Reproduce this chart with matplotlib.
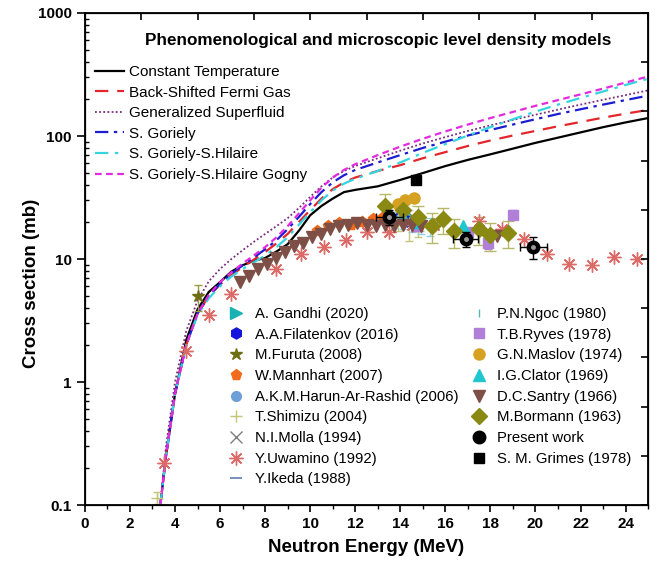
import matplotlib.pyplot as plt
import matplotlib.ticker as mt
import numpy as np

plt.rcParams['font.family'] = ['Liberation Sans', 'DejaVu Sans']

# --- model curves (TALYS level density options) ---
E_mod = [3.35, 3.6, 4.0, 4.5, 5.0, 5.5, 6.0, 6.5, 7.0, 7.5, 8.0, 8.5, 9.0, 9.5, 10.0, 10.5,
         11.0, 11.5, 12.0, 13.0, 14.0, 15.0, 16.0, 17.0, 18.0, 19.0, 20.0, 21.0, 22.0, 23.0, 24.0, 25.0]
ct = [0.1, 0.25, 0.8, 2.2, 3.9, 5.4, 6.5, 7.9, 8.9, 9.7, 10.2, 11.5, 13.2, 17, 22.7, 27,
      31, 35, 36.5, 39, 44, 50, 57, 64, 71, 79, 88, 97, 107, 118, 129, 140]
bsfg = [0.1, 0.26, 0.8, 2.0, 3.6, 5.0, 6.2, 7.4, 8.6, 9.9, 11.4, 13.4, 16, 20, 25, 31,
        37, 42, 46, 52, 58, 66, 74, 83, 92, 101, 110, 120, 130, 141, 152, 163]
gsm = [0.1, 0.3, 1.0, 2.6, 4.6, 6.6, 8.3, 10, 11.8, 13.8, 16, 18.5, 21.5, 26, 32, 39,
       46, 52, 57, 66, 76, 87, 98, 110, 122, 135, 149, 164, 180, 197, 215, 235]
gor = [0.1, 0.25, 0.8, 2.0, 3.6, 5.0, 6.3, 7.6, 8.9, 10.3, 12, 14.2, 17.5, 22, 28, 35,
       42, 48, 53, 61, 70, 80, 90, 101, 112, 124, 137, 151, 165, 180, 196, 213]
gsh = [0.1, 0.25, 0.8, 2.0, 3.5, 4.8, 6.0, 7.2, 8.3, 9.4, 10.7, 12.5, 15, 19, 24, 30,
       36, 41, 45, 52, 61, 73, 86, 101, 118, 137, 158, 180, 204, 230, 260, 292]
gog = [0.1, 0.25, 0.8, 2.0, 3.6, 5.1, 6.5, 7.8, 9.2, 10.7, 12.5, 15, 18.5, 23.5, 30, 38,
       46, 53, 59, 70, 82, 95, 109, 124, 140, 157, 176, 196, 218, 243, 272, 305]

# --- experimental data ---
gandhi_E = [14.4, 14.8]
gandhi_y = [21.5, 20.5]
filat_E = [13.5, 13.9, 14.3, 14.7]
filat_y = [22, 21.5, 20.5, 20]
furuta_E = [5.0]
furuta_y = [5.0]
furuta_err = [1.2]
mann_E = [10.3, 10.8, 11.3, 11.8, 12.3, 12.8, 13.2]
mann_y = [17, 18.5, 19.5, 19, 20, 21, 21.5]
harun_E = [14.0]
harun_y = [21]
shim_E = [3.2, 13.9, 14.4, 14.8]
shim_y = [0.115, 21, 19.5, 19]
shim_err = [0.012, 4, 5.5, 4]
molla_E = [14.6]
molla_y = [21.5]
uwa_E = [3.5, 4.5, 5.5, 6.5, 8.5, 9.6, 10.6, 11.6, 12.5, 13.5, 14.5, 15.5, 17.5, 18.5,
         19.5, 20.5, 21.5, 22.5, 23.5, 24.5]
uwa_y = [0.22, 1.8, 3.5, 5.2, 8.3, 11, 12.5, 14.2, 16.5, 16.5, 19, 19, 20.5, 17.5,
         14.5, 11, 9.1, 8.9, 10.3, 10]
ikeda_E = [13.6, 14.2, 14.8]
ikeda_y = [20.5, 20, 19.5]
ngoc_E = [13.7, 14.1, 14.5, 14.9, 15.3]
ngoc_y = [21, 20.5, 19.5, 19, 18.5]
ngoc_err = [3, 3, 3, 3, 3]
ryves_E = [14.7, 17.0, 17.9, 19.0]
ryves_y = [18.5, 16.5, 13.5, 23]
ryves_err = [1.5, 1.5, 1.5, 2]
maslov_E = [13.9, 14.2, 14.6]
maslov_y = [28, 30, 31.5]
clator_E = [14.1, 14.7, 16.8]
clator_y = [22, 20, 18.5]
santry_E = [6.9, 7.3, 7.7, 8.1, 8.5, 8.9, 9.3, 9.7, 10.1, 10.5, 10.9, 11.3, 11.7, 12.1,
            12.5, 12.9, 13.3, 13.7, 14.1, 14.5, 14.9, 18.3]
santry_y = [6.5, 7.3, 8.3, 9.2, 10.2, 11.5, 12.8, 13.5, 15, 16, 17.5, 18.5, 19, 19.5,
            19, 18.5, 19, 18.5, 19, 18.8, 18.5, 15.5]
borm_E = [13.3, 14.1, 14.8, 15.4, 15.9, 16.4, 17.5, 18.0, 18.8]
borm_y = [27, 25, 22, 18.5, 21, 16.8, 17.5, 15.6, 16.2]
borm_err = [7, 6, 5, 5, 5, 4.5, 4.5, 4, 4]
pres_E = [13.5, 16.9, 19.9]
pres_y = [22, 14.5, 12.5]
pres_xerr = [0.6, 0.55, 0.6]
pres_yerr = [3, 2, 2.5]
grimes_E = [14.7]
grimes_y = [44]

fig = plt.figure(figsize=(6.58, 5.65), dpi=100)
ax = fig.add_axes([0.129, 0.106, 0.856, 0.871])

l1, = ax.plot(E_mod, ct, color='black', lw=1.6, label='Constant Temperature')
l2, = ax.plot(E_mod, bsfg, color='#e3262b', lw=1.6, ls=(0, (6, 4)), label='Back-Shifted Fermi Gas')
l3, = ax.plot(E_mod, gsm, color='#7a2a7f', lw=1.3, ls=(0, (1, 1.3)), label='Generalized Superfluid')
l4, = ax.plot(E_mod, gor, color='#1c1cd0', lw=1.6, ls=(0, (6, 2.5, 1.5, 2.5)), label='S. Goriely')
l5, = ax.plot(E_mod, gsh, color='#35d5e0', lw=1.6, ls=(0, (6, 3, 1.5, 3)), label='S. Goriely-S.Hilaire')
l6, = ax.plot(E_mod, gog, color='#e22ae0', lw=1.6, ls=(0, (3, 2)), label='S. Goriely-S.Hilaire Gogny')

# error bars
ax.errorbar(furuta_E, furuta_y, yerr=furuta_err, fmt='none', ecolor='#9a9a40', elinewidth=1, capsize=3)
ax.errorbar(shim_E, shim_y, yerr=shim_err, fmt='none', ecolor='#c4c47a', elinewidth=1, capsize=3)
ax.errorbar(ngoc_E, ngoc_y, yerr=ngoc_err, fmt='none', ecolor='#8fd3e3', elinewidth=1, capsize=3)
ax.errorbar(ryves_E, ryves_y, yerr=ryves_err, fmt='none', ecolor='#b07fd8', elinewidth=1, capsize=3)
ax.errorbar(borm_E, borm_y, yerr=borm_err, fmt='none', ecolor='#b8b86a', elinewidth=1, capsize=4)

ms = 8
h = []
h.append(ax.plot(gandhi_E, gandhi_y, '>', color='#19b2b2', ms=ms, ls='none', label='A. Gandhi (2020)')[0])
h.append(ax.plot(filat_E, filat_y, 'h', color='#1414dc', ms=ms, ls='none', label='A.A.Filatenkov (2016)')[0])
h.append(ax.plot(furuta_E, furuta_y, '*', color='#6e6e14', ms=ms + 1, ls='none', label='M.Furuta (2008)')[0])
h.append(ax.plot(mann_E, mann_y, 'p', color='#f26a1b', ms=ms, ls='none', label='W.Mannhart (2007)')[0])
h.append(ax.plot(harun_E, harun_y, 'o', color='#6f9fd8', ms=ms - 1, ls='none', label='A.K.M.Harun-Ar-Rashid (2006)')[0])
h.append(ax.plot(shim_E, shim_y, '+', color='#c4c47a', ms=ms + 1, mew=1, ls='none', label='T.Shimizu (2004)')[0])
h.append(ax.plot(molla_E, molla_y, 'x', color='#7f7f7f', ms=ms + 1, mew=1, ls='none', label='N.I.Molla (1994)')[0])
h.append(ax.plot(uwa_E, uwa_y, marker=(8, 2, 0), color='#dc6a66', ms=ms + 2, mew=1, ls='none', label='Y.Uwamino (1992)')[0])
h.append(ax.plot(ikeda_E, ikeda_y, '_', color='#5b7fb0', ms=ms, mew=1.2, ls='none', label='Y.Ikeda (1988)')[0])
h.append(ax.plot(ngoc_E, ngoc_y, '|', color='#5ab4b4', ms=ms - 2, mew=1, ls='none', label='P.N.Ngoc (1980)')[0])
h.append(ax.plot(ryves_E, ryves_y, 's', color='#b07fd8', ms=ms - 1, ls='none', label='T.B.Ryves (1978)')[0])
h.append(ax.plot(maslov_E, maslov_y, 'o', color='#d6a121', ms=ms, ls='none', label='G.N.Maslov (1974)')[0])
h.append(ax.plot(clator_E, clator_y, '^', color='#20c6cf', ms=ms, ls='none', label='I.G.Clator (1969)')[0])
h.append(ax.plot(santry_E, santry_y, 'v', color='#7d4f47', ms=ms + 1, ls='none', label='D.C.Santry (1966)')[0])
h.append(ax.plot(borm_E, borm_y, 'D', color='#8a8a12', ms=ms, ls='none', label='M.Bormann (1963)')[0])
ax.errorbar(pres_E, pres_y, xerr=pres_xerr, yerr=pres_yerr, fmt='none', ecolor='black', elinewidth=1, capsize=3)
h.append(ax.plot(pres_E, pres_y, 'o', color='black', mec='black', ms=ms + 1, ls='none', label='Present work')[0])
ax.plot(pres_E, pres_y, 'o', color='#9a9a9a', ms=2.5, ls='none')
h.append(ax.plot(grimes_E, grimes_y, 's', color='black', ms=ms - 1, ls='none', label='S. M. Grimes (1978)')[0])

ax.set_yscale('log')
ax.set_xlim(0, 25)
ax.set_ylim(0.1, 1000)
ax.set_xticks(np.arange(0, 25, 2))
ax.xaxis.set_minor_locator(mt.MultipleLocator(1))
ax.yaxis.set_major_formatter(mt.FuncFormatter(lambda v, p: '%g' % v))
ax.yaxis.set_minor_locator(mt.LogLocator(base=10, subs=np.arange(2, 10)))
ax.yaxis.set_minor_formatter(mt.NullFormatter())
ax.tick_params(top=False, right=False, labelsize=11)
ax.tick_params(axis='y', which='major', direction='out', length=6, width=1.2)
ax.tick_params(axis='y', which='minor', direction='in', length=3, width=1)
ax.tick_params(axis='x', which='major', direction='out', length=5, width=1.2)
ax.tick_params(axis='x', which='minor', direction='out', length=3, width=1)
for lab in ax.get_xticklabels() + ax.get_yticklabels():
    lab.set_fontweight('bold')
for s in ax.spines.values():
    s.set_linewidth(1.3)

# separate top / right tick layers
axt = ax.twiny()
axt.set_xlim(0, 10)
axt.set_xticks(range(11))
axt.tick_params(direction='in', length=5, width=1.2, labeltop=False)
axr = ax.twinx()
axr.set_ylim(0, 10)
axr.set_yticks(range(11))
axr.tick_params(direction='in', length=5, width=1.2, labelright=False)

ax.set_xlabel('Neutron Energy (MeV)', fontsize=13.5, fontweight='bold')
ax.xaxis.set_label_coords(0.5, -0.068)
ax.set_ylabel('Cross section (mb)', fontsize=13.5, fontweight='bold')
ax.yaxis.set_label_coords(-0.08, 0.45)

ax.text(0.52, 0.945, 'Phenomenological and microscopic level density models',
        transform=ax.transAxes, ha='center', va='center', fontsize=12.3, fontweight='bold')

leg1 = ax.legend(handles=[l1, l2, l3, l4, l5, l6], loc='upper left', frameon=False,
                 bbox_to_anchor=(95 / 658, 1 - 65 / 565), bbox_transform=fig.transFigure,
                 borderpad=0, borderaxespad=0, fontsize=11, handlelength=1.9,
                 handletextpad=0.35, labelspacing=0.43)
ax.add_artist(leg1)
ax.legend(handles=h, loc='upper left', ncol=2, frameon=False,
          bbox_to_anchor=(229 / 658, 1 - 307 / 565), bbox_transform=fig.transFigure,
          borderpad=0, borderaxespad=0, fontsize=10.7, handlelength=1.0,
          handletextpad=0.75, labelspacing=0.45, columnspacing=0.85)

fig.savefig('out.png', dpi=100)
